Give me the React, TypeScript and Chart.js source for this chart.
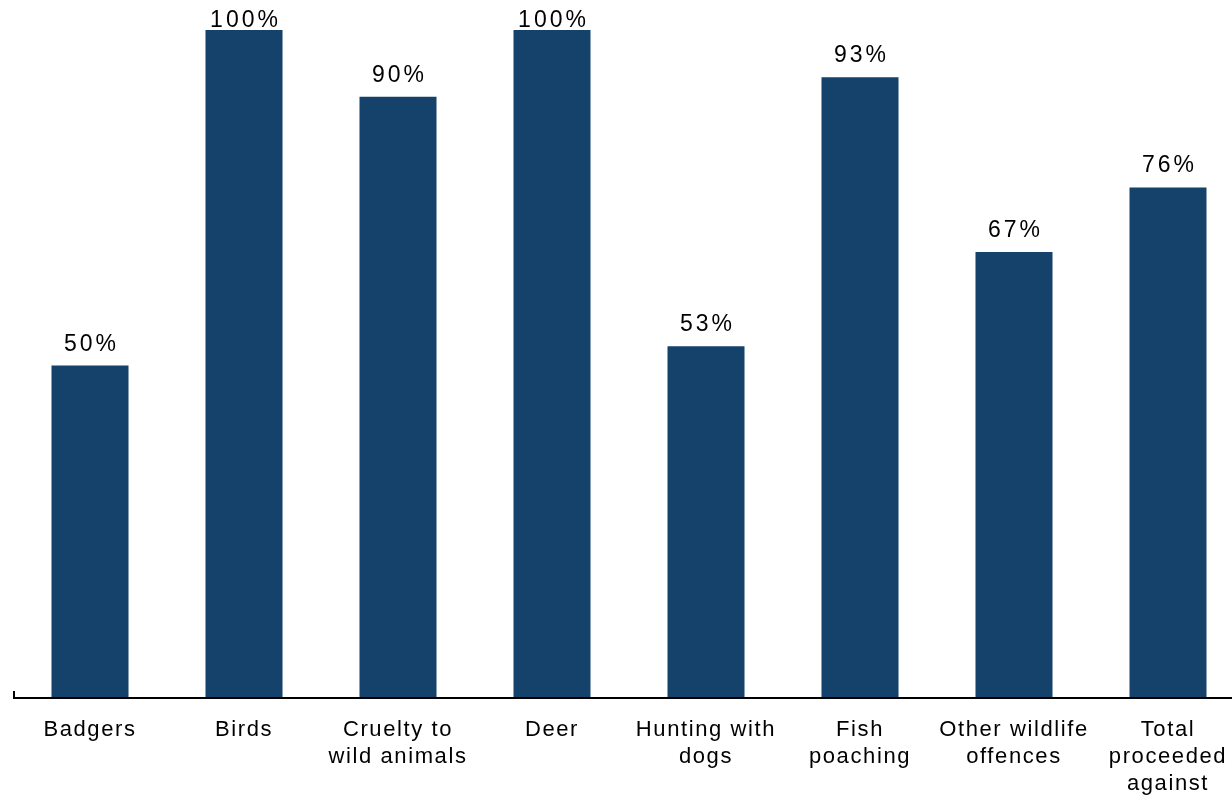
import React, { useEffect, useRef } from "react";
import { Chart, registerables } from "chart.js";

Chart.register(...registerables);

const categories: (string | string[])[] = [
  "Badgers",
  "Birds",
  ["Cruelty to", "wild animals"],
  "Deer",
  ["Hunting with", "dogs"],
  ["Fish", "poaching"],
  ["Other wildlife", "offences"],
  ["Total", "proceeded", "against"],
];
const values: number[] = [49.7, 100, 90, 100, 52.6, 92.9, 66.7, 76.4];
const valueLabels: string[] = ["50%", "100%", "90%", "100%", "53%", "93%", "67%", "76%"];

const BAR_COLOR = "#15426b";
const FONT = "'Liberation Sans', Arial, sans-serif";

const spacing = {
  id: "spacing",
  beforeLayout(chart: any) {
    chart.ctx.letterSpacing = "1.6px";
  },
  beforeDraw(chart: any) {
    chart.ctx.letterSpacing = "1.6px";
  },
};

const overlay = {
  id: "overlay",
  afterDatasetsDraw(chart: any) {
    const ctx = chart.ctx;
    const area = chart.chartArea;
    ctx.save();
    // axis line
    ctx.strokeStyle = "#000";
    ctx.lineWidth = 2;
    ctx.beginPath();
    ctx.moveTo(area.left, area.bottom + 1);
    ctx.lineTo(area.right, area.bottom + 1);
    ctx.stroke();
    ctx.beginPath();
    ctx.moveTo(area.left + 1, area.bottom + 1);
    ctx.lineTo(area.left + 1, area.bottom - 6);
    ctx.stroke();
    // data labels
    const meta = chart.getDatasetMeta(0);
    ctx.fillStyle = "#000";
    ctx.font = `23px ${FONT}`;
    ctx.letterSpacing = "3px";
    ctx.textAlign = "center";
    ctx.textBaseline = "alphabetic";
    meta.data.forEach((bar: any, i: number) => {
      const y = Math.max(bar.y - 15, 27);
      ctx.fillText(valueLabels[i], bar.x + 1.5, y);
    });
    ctx.restore();
  },
};

export default function App() {
  const ref = useRef<HTMLCanvasElement | null>(null);
  useEffect(() => {
    if (!ref.current) return;
    const chart = new Chart(ref.current, {
      type: "bar",
      data: {
        labels: categories,
        datasets: [
          {
            data: values,
            backgroundColor: BAR_COLOR,
            borderWidth: 0,
            categoryPercentage: 1,
            barPercentage: 0.5,
          },
        ],
      },
      options: {
        responsive: false,
        animation: false,
        layout: { padding: { left: 13, top: 30, right: 15, bottom: 0 } },
        plugins: {
          legend: { display: false },
          tooltip: { enabled: false },
        },
        scales: {
          x: {
            grid: { display: false },
            border: { display: false },
            ticks: {
              color: "#000",
              font: { family: FONT, size: 22, lineHeight: 1.227 },
              padding: 11,
              maxRotation: 0,
              autoSkip: false,
            },
            afterFit: (s: any) => {
              s.height = 101;
            },
          },
          y: {
            display: false,
            min: 0,
            max: 100,
          },
        },
      },
      plugins: [spacing, overlay],
    });
    return () => chart.destroy();
  }, []);
  return (
    <div
      style={{
        position: "fixed",
        left: 0,
        top: 0,
        width: 1232,
        height: 798,
        overflow: "hidden",
        background: "#fff",
      }}
    >
      <canvas ref={ref} width={1260} height={798} style={{ display: "block" }} />
    </div>
  );
}
